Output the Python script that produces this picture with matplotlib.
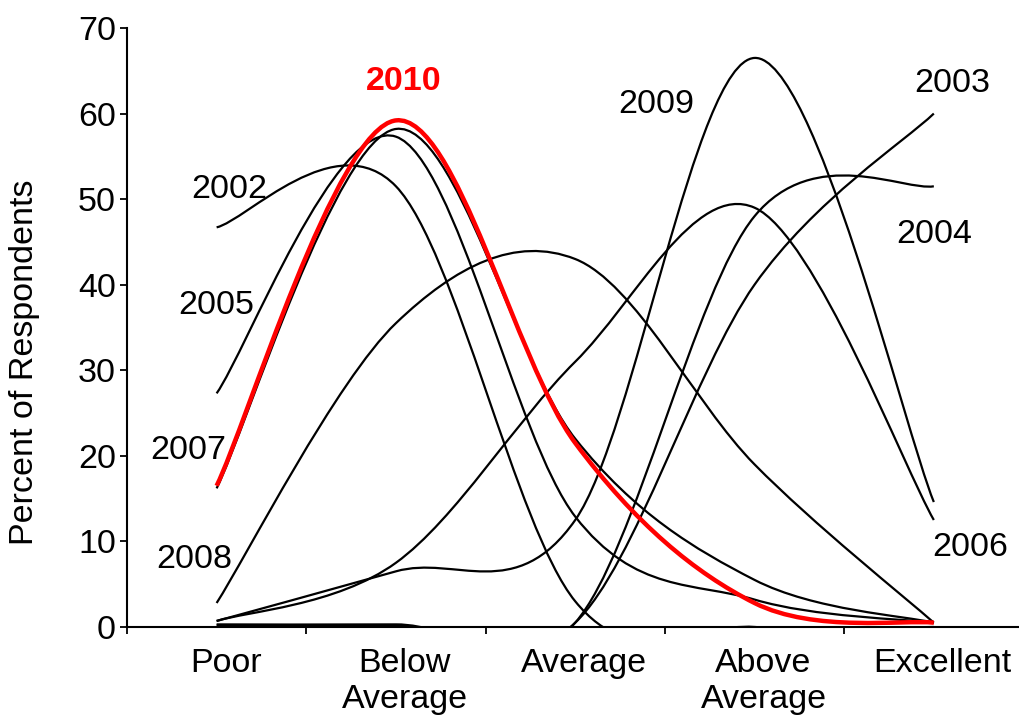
import numpy as np
import matplotlib
matplotlib.use("Agg")
import matplotlib.pyplot as plt
import matplotlib.transforms as mtransforms
from matplotlib.path import Path
from matplotlib.patches import PathPatch

plt.rcParams['font.family'] = ['Liberation Sans', 'DejaVu Sans']

# data (percent of respondents per rating)
categories = ["Poor", "Below\nAverage", "Average", "Above\nAverage", "Excellent"]
years = ["2002", "2003", "2004", "2005", "2006", "2007", "2008", "2009", "2010"]
v2002 = [46.7, 51.5, 3.0, 0.0, 0.0]
v2003 = [0.3, 0.3, 0.5, 40.0, 60.0]
v2004 = [0.2, 0.2, 0.5, 48.0, 51.5]
v2005 = [27.3, 57.3, 12.9, 3.2, 0.5]
v2006 = [0.7, 7.5, 31.0, 49.0, 12.5]
v2007 = [16.2, 58.2, 22.0, 5.5, 0.5]
v2008 = [2.8, 35.5, 43.0, 19.0, 0.5]
v2009 = [0.7, 6.5, 12.5, 66.5, 14.6]
v2010 = [16.5, 59.2, 21.5, 2.8, 0.5]
series = [v2002, v2003, v2004, v2005, v2006, v2007, v2008, v2009, v2010]

# where the year labels sit (category index, value)
label_pos = {
    "2002": (0.07, 51.1), "2003": (4.1, 63.5), "2004": (4.0, 45.9),
    "2005": (0.0, 37.6), "2006": (4.2, 9.3), "2007": (-0.16, 20.6),
    "2008": (-0.125, 7.9), "2009": (2.45, 61.1), "2010": (1.045, 63.8),
}

FS = 24.5


def smooth_path(ys):
    # excel style smoothed line: bezier segments with catmull-rom handles
    pts = np.column_stack([np.arange(len(ys)), ys]).astype(float)
    n = len(pts)
    verts = [pts[0]]
    codes = [Path.MOVETO]
    for i in range(n - 1):
        p0 = pts[max(i - 1, 0)]
        p1 = pts[i]
        p2 = pts[i + 1]
        p3 = pts[min(i + 2, n - 1)]
        verts += [p1 + (p2 - p0) / 6, p2 - (p3 - p1) / 6, p2]
        codes += [Path.CURVE4] * 3
    return Path(verts, codes)


fig = plt.figure(figsize=(10.19, 7.27), dpi=100)
ax = fig.add_axes([0.1246, 0.1376, 0.8798, 0.8239])

for yr, vals in zip(years, series):
    if yr == "2010":
        patch = PathPatch(smooth_path(vals), fill=False, edgecolor='#ff0000',
                          lw=3.2, zorder=4, capstyle='butt')
    else:
        patch = PathPatch(smooth_path(vals), fill=False, edgecolor='black',
                          lw=1.6, zorder=3, capstyle='butt')
    ax.add_patch(patch)

for yr in years:
    x, y = label_pos[yr]
    if yr == "2010":
        ax.text(x, y, yr, color='#ff0000', fontsize=FS, fontweight='bold',
                ha='center', va='center')
    else:
        ax.text(x, y, yr, color='black', fontsize=FS, ha='center', va='center')

ax.set_xlim(-0.5, 4.5)
ax.set_ylim(0, 70)
ax.spines['top'].set_visible(False)
ax.spines['right'].set_visible(False)
ax.spines['left'].set_linewidth(1.5)
ax.spines['bottom'].set_linewidth(1.5)

ax.set_yticks(np.arange(0, 71, 10))
ax.tick_params(axis='y', direction='out', length=5, width=1.3, labelsize=FS, pad=3)

ax.set_xticks(np.arange(-0.5, 4.6, 1.0))
ax.set_xticklabels([])
ax.tick_params(axis='x', which='major', direction='out', length=5, width=1.3)
ax.set_xticks(np.arange(5), minor=True)
ax.set_xticklabels(categories, minor=True, fontsize=FS, ha='center',
                   multialignment='center')
ax.tick_params(axis='x', which='minor', length=0, pad=15)

# category labels sit a little right of the category centres
shift = mtransforms.ScaledTranslation(9 / 100, 0, fig.dpi_scale_trans)
for lab in ax.get_xticklabels(minor=True):
    lab.set_transform(lab.get_transform() + shift)

fig.text(25 / 1019, 0.502, "Percent of Respondents", rotation=90,
         fontsize=FS, ha='center', va='center')

fig.savefig('out.png', dpi=100)
